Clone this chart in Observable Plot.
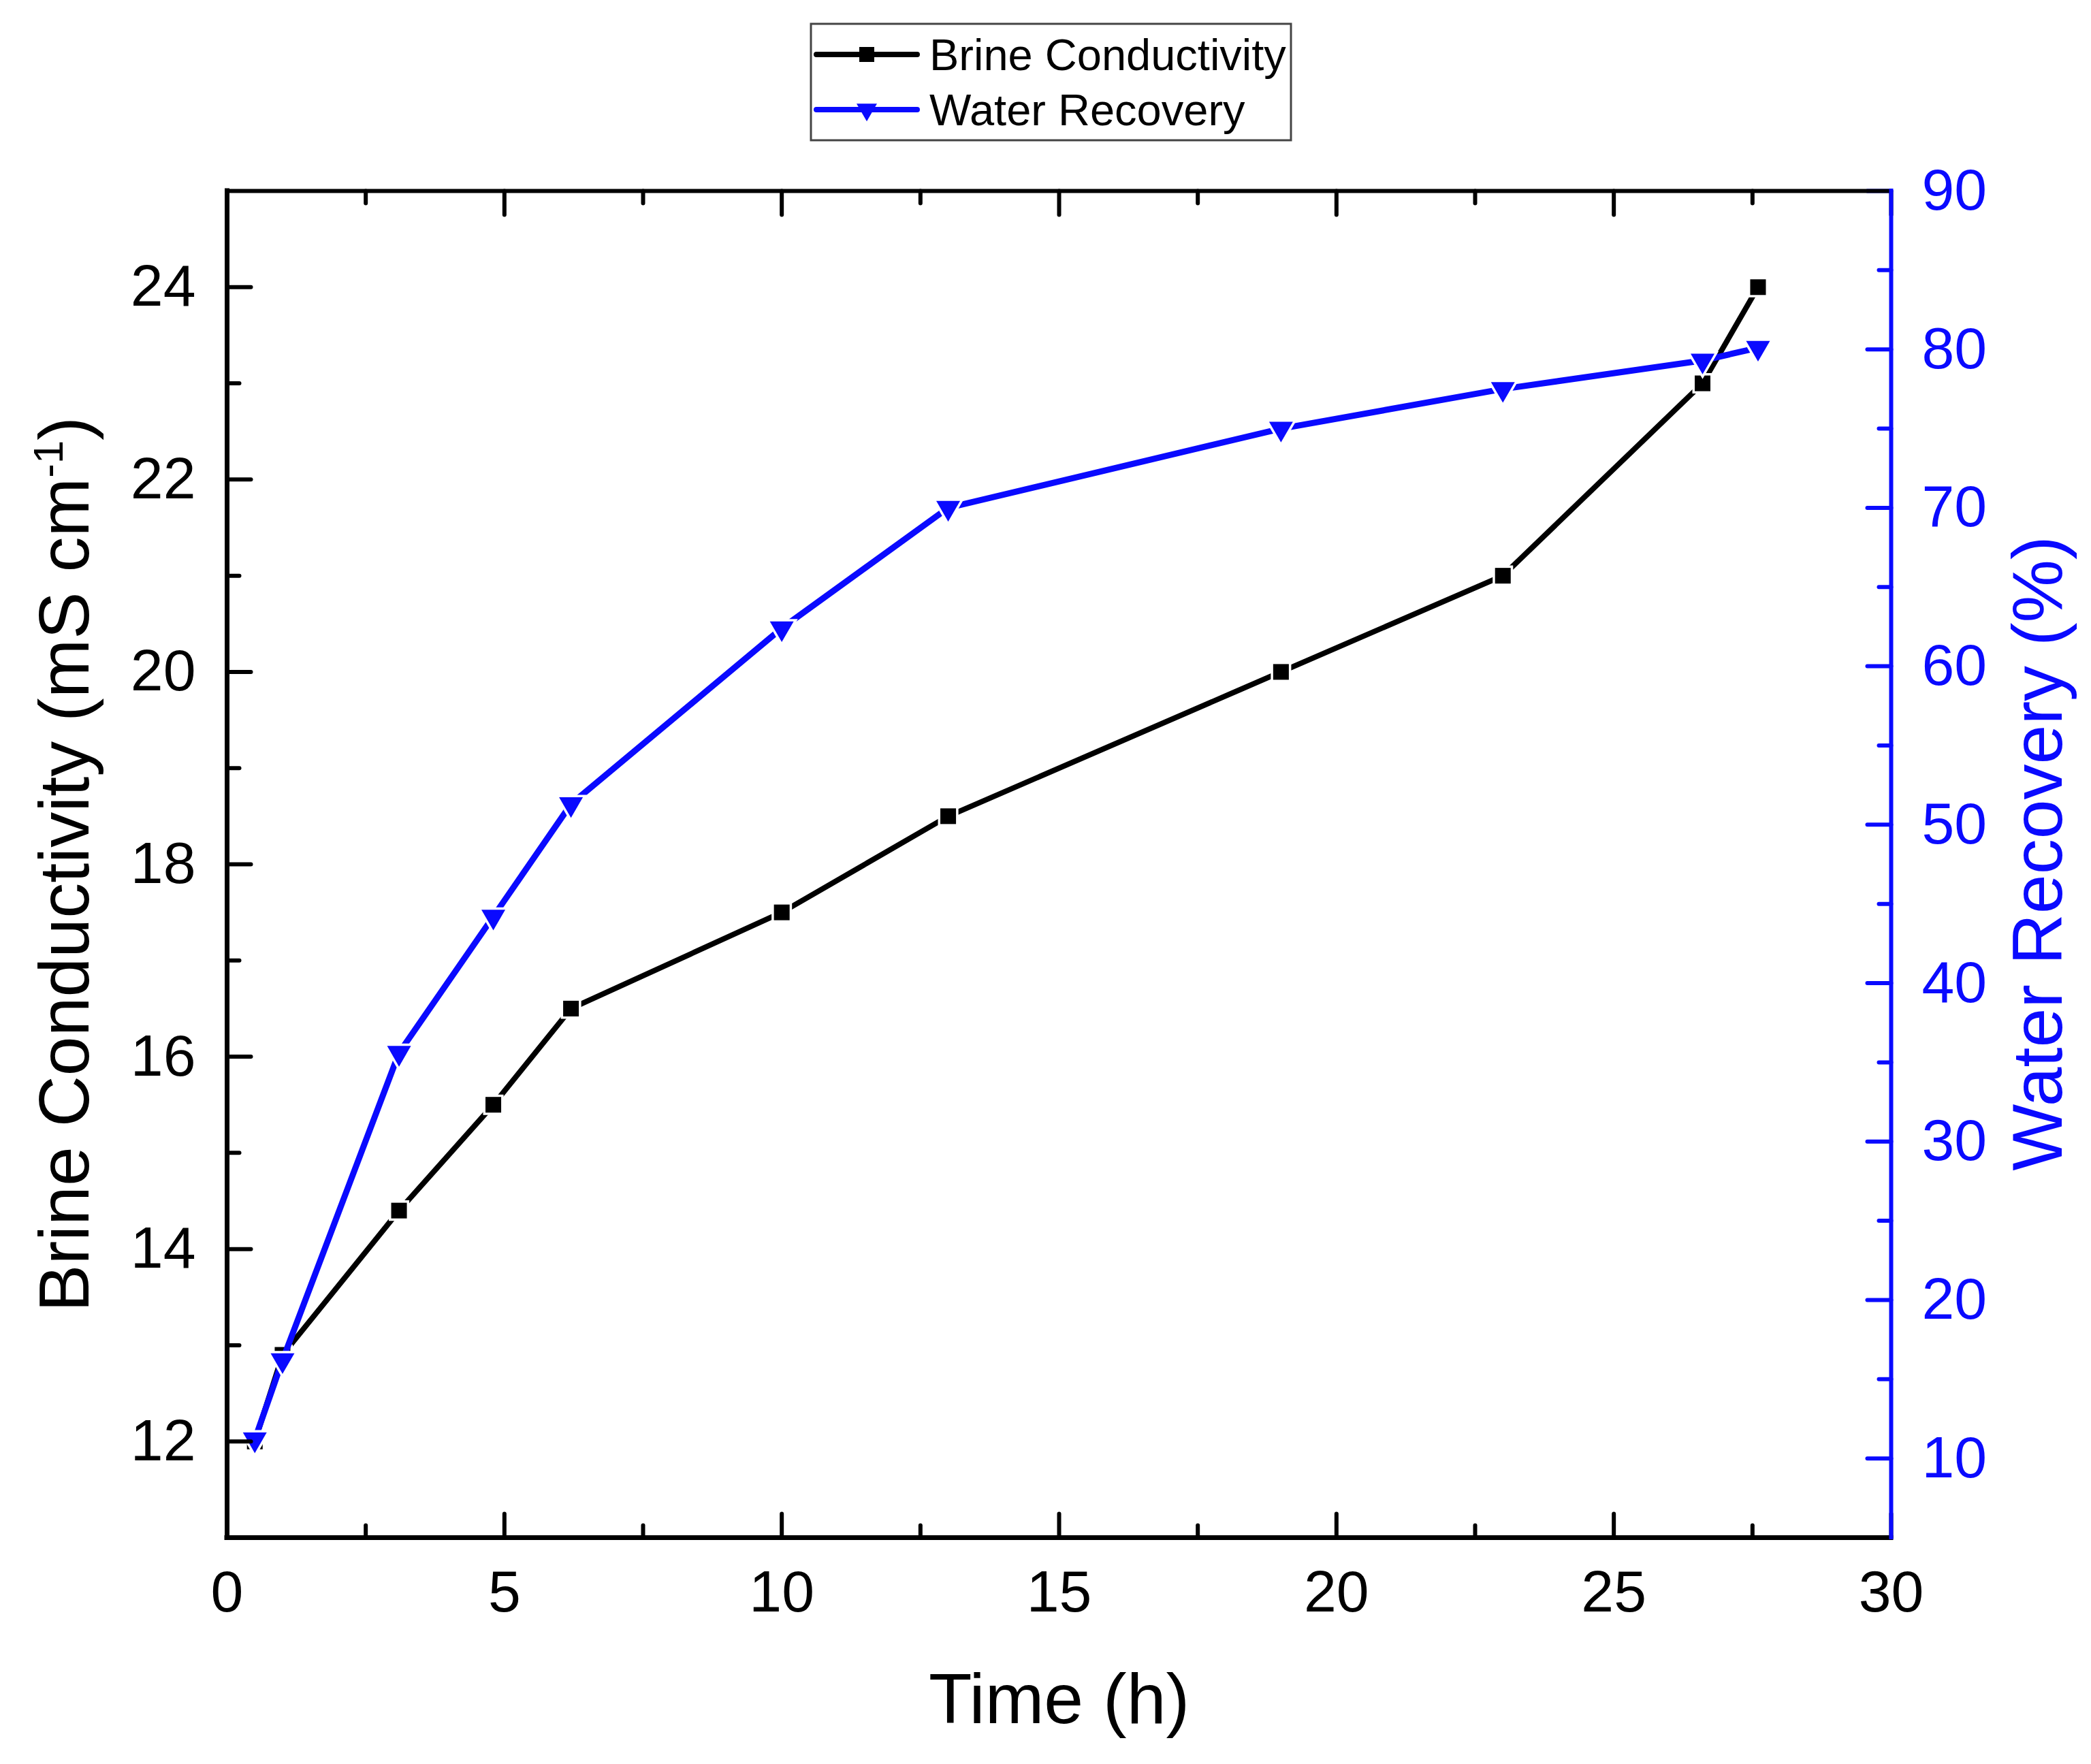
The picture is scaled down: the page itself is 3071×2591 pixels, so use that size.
<!DOCTYPE html>
<html><head><meta charset="utf-8">
<script src="https://cdn.jsdelivr.net/npm/d3@7"></script>
<script src="https://cdn.jsdelivr.net/npm/@observablehq/plot@0.6"></script>
<style>
html,body{margin:0;padding:0;background:#fff;}
body{width:3071px;height:2591px;overflow:hidden;}
#legend svg,#chart svg{display:block;}
</style></head><body>
<div id="legend"></div>
<div id="chart"></div>
<script>
// ---- data ----
const time = [0.5, 1, 3.1, 4.8, 6.2, 10, 13, 19, 23, 26.6, 27.6];
const brineConductivity = [12.0, 12.9, 14.4, 15.5, 16.5, 17.5, 18.5, 20.0, 21.0, 23.0, 24.0];
const waterRecovery = [11.2, 16.2, 35.6, 44.2, 51.3, 62.4, 70.0, 75.0, 77.5, 79.3, 80.1];
const seriesNames = ["Brine Conductivity", "Water Recovery"];
const xTitle = "Time (h)";
const yLeftTitle = "Brine Conductivity (mS cm-1)";
const yRightTitle = "Water Recovery (%)";
const xTicksMajor = [0, 5, 10, 15, 20, 25, 30];
const xTicksMinor = [2.5, 7.5, 12.5, 17.5, 22.5, 27.5];
const yLeftMajor = [12, 14, 16, 18, 20, 22, 24];
const yLeftMinor = [13, 15, 17, 19, 21, 23];
const yRightMajor = [10, 20, 30, 40, 50, 60, 70, 80, 90];
const yRightMinor = [15, 25, 35, 45, 55, 65, 75, 85];
const xDomain = [0, 30];
const yLeftDomain = [11, 25];
const yRightDomain = [5, 90];

// ---- style ----
const FONT = "'Liberation Sans', Arial, Helvetica, sans-serif";
const BLACK = "#000000";
const BLUE = "#0a0aff";
const W = 3071, TOTAL_H = 2591, LEG_H = 230;
const H = TOTAL_H - LEG_H;

const rows = time.map((t, i) => ({time: t, brine: brineConductivity[i], wr: waterRecovery[i]}));
const toLeft = d3.scaleLinear().domain(yRightDomain).range(yLeftDomain);

// ---- legend (above the chart) ----
{
  const svg = d3.select("#legend").append("svg").attr("width", W).attr("height", LEG_H);
  svg.append("rect").attr("x", 1191).attr("y", 35).attr("width", 705).attr("height", 171)
    .attr("fill", "white").attr("stroke", "#444").attr("stroke-width", 3);
  const entries = [
    {name: seriesNames[0], color: BLACK, sym: d3.symbolSquare, size: 22 * 22, rot: 0, y: 80},
    {name: seriesNames[1], color: BLUE, sym: d3.symbolTriangle, size: 0.433 * 30 * 30, rot: 180, y: 161}
  ];
  for (const e of entries) {
    svg.append("line").attr("x1", 1199).attr("x2", 1347).attr("y1", e.y).attr("y2", e.y)
      .attr("stroke", e.color).attr("stroke-width", 8).attr("stroke-linecap", "round");
    svg.append("path").attr("d", d3.symbol(e.sym, e.size)())
      .attr("transform", `translate(1273,${e.y}) rotate(${e.rot})`).attr("fill", e.color);
    svg.append("text").attr("x", 1365).attr("y", e.y + 23).attr("font-family", FONT)
      .attr("font-size", 65).attr("fill", "black").text(e.name);
  }
}

// ---- chart ----
const tickShape = {draw(ctx, l) { ctx.moveTo(0, 0); ctx.lineTo(0, -l); }};
const tk = (data, opts) => Plot.vector(data, {shape: tickShape, anchor: "start", strokeWidth: 6, ...opts});

const chart = Plot.plot({
  width: W, height: H,
  marginLeft: 333, marginRight: 294, marginTop: 280 - LEG_H, marginBottom: 333,
  x: {domain: xDomain},
  y: {domain: yLeftDomain},
  style: {fontFamily: FONT, background: "white", overflow: "visible", color: "black"},
  marks: [
    // series
    Plot.line(rows, {x: "time", y: "brine", stroke: BLACK, strokeWidth: 8}),
    Plot.dot(rows, {x: "time", y: "brine", symbol: "square", r: 13, fill: BLACK, stroke: "white", strokeWidth: 7, paintOrder: "stroke"}),
    Plot.line(rows, {x: "time", y: d => toLeft(d.wr), stroke: BLUE, strokeWidth: 9}),
    Plot.dot(rows, {x: "time", y: d => toLeft(d.wr), symbol: "triangle", r: 13, rotate: 180, fill: BLUE, stroke: "white", strokeWidth: 7, paintOrder: "stroke"}),
    // ticks (inward)
    tk(xTicksMajor, {x: d => d, frameAnchor: "bottom", length: 35, stroke: BLACK}),
    tk(xTicksMinor, {x: d => d, frameAnchor: "bottom", length: 18, stroke: BLACK}),
    tk(xTicksMajor, {x: d => d, frameAnchor: "top", length: 35, rotate: 180, stroke: BLACK}),
    tk(xTicksMinor, {x: d => d, frameAnchor: "top", length: 18, rotate: 180, stroke: BLACK}),
    tk(yLeftMajor, {y: d => d, frameAnchor: "left", length: 35, rotate: 90, stroke: BLACK}),
    tk(yLeftMinor, {y: d => d, frameAnchor: "left", length: 18, rotate: 90, stroke: BLACK}),
    tk(yRightMajor, {y: d => toLeft(d), frameAnchor: "right", length: 35, rotate: -90, stroke: BLUE}),
    tk(yRightMinor, {y: d => toLeft(d), frameAnchor: "right", length: 18, rotate: -90, stroke: BLUE}),
    // frame
    Plot.ruleY([yLeftDomain[1]], {stroke: BLACK, strokeWidth: 6, strokeLinecap: "square"}),
    Plot.ruleY([yLeftDomain[0]], {stroke: BLACK, strokeWidth: 7, strokeLinecap: "square"}),
    Plot.ruleX([xDomain[0]], {stroke: BLACK, strokeWidth: 7, strokeLinecap: "square"}),
    Plot.ruleX([xDomain[1]], {stroke: BLUE, strokeWidth: 6, strokeLinecap: "square"}),
    // tick labels
    Plot.axisX({ticks: xTicksMajor, tickSize: 0, tickPadding: 47, fontSize: 86, label: null, fill: BLACK}),
    Plot.axisY({ticks: yLeftMajor, tickSize: 0, tickPadding: 46, fontSize: 86, label: null, fill: BLACK}),
    Plot.axisY({anchor: "right", ticks: yRightMajor.map(toLeft), tickFormat: v => String(Math.round(toLeft.invert(v))),
      tickSize: 0, tickPadding: 45, fontSize: 86, label: null, fill: BLUE, stroke: BLUE}),
    // axis titles
    Plot.text([xTitle], {text: d => d, frameAnchor: "bottom", textAnchor: "middle", dy: 272, fontSize: 104, fill: BLACK}),
    Plot.text([yLeftTitle], {text: d => d, frameAnchor: "left", textAnchor: "middle", dx: -237, rotate: -90, fontSize: 104, fill: BLACK}),
    Plot.text([yRightTitle], {text: d => d, frameAnchor: "right", textAnchor: "middle", dx: 217, dy: -16, rotate: -90, fontSize: 104, fill: BLUE})
  ]
});
document.getElementById("chart").appendChild(chart);

// superscript in the left axis title
d3.select(chart).selectAll("text").each(function() {
  if (this.textContent === yLeftTitle) {
    const t = d3.select(this);
    t.text("");
    t.append("tspan").text("Brine Conductivity (mS cm");
    t.append("tspan").attr("font-size", 62).attr("dy", -38).text("-1");
    t.append("tspan").attr("dy", 38).text(")");
  }
});
</script>
</body></html>
